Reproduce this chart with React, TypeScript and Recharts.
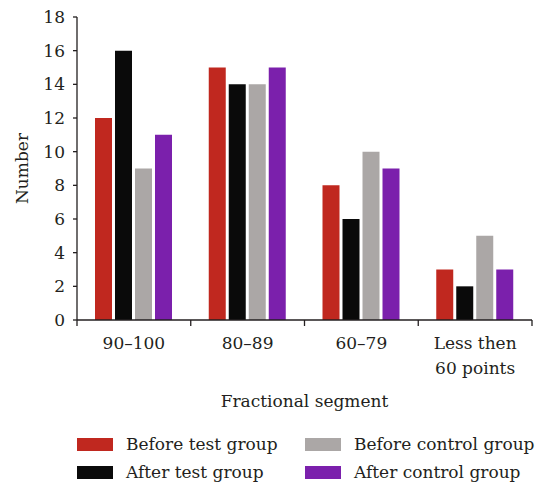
import { BarChart, Bar, XAxis, YAxis, Legend } from "recharts";

const categories = ["90–100", "80–89", "60–79", "Less then\n60 points"];
const beforeTest = [12, 15, 8, 3];
const afterTest = [16, 14, 6, 2];
const beforeControl = [9, 14, 10, 5];
const afterControl = [11, 15, 9, 3];
const yTicks = [0, 2, 4, 6, 8, 10, 12, 14, 16, 18];

const series = [
  { key: "beforeTest", name: "Before test group", color: "#C0281F" },
  { key: "afterTest", name: "After test group", color: "#0A0A0A" },
  { key: "beforeControl", name: "Before control group", color: "#ABA7A6" },
  { key: "afterControl", name: "After control group", color: "#7B20AC" },
];

const data = categories.map((c, i) => ({
  segment: c,
  beforeTest: beforeTest[i],
  afterTest: afterTest[i],
  beforeControl: beforeControl[i],
  afterControl: afterControl[i],
}));

const FONT = "'DejaVu Serif', serif";
const FS = 17;
const TEXT = "#231F20";
const AXIS = "#231F20";

function SegmentTick(props: any) {
  const { x, y, payload, index, visibleTicksCount } = props;
  const half = payload.offset || 0;
  const lines = String(payload.value).split("\n");
  const isLast = index === visibleTicksCount - 1;
  return (
    <g>
      <line x1={x - half} x2={x - half} y1={y - 8} y2={y - 2} stroke={AXIS} strokeWidth={1.3} />
      {isLast && (
        <line x1={x + half} x2={x + half} y1={y - 8} y2={y - 2} stroke={AXIS} strokeWidth={1.3} />
      )}
      <text x={x} y={y + 21} textAnchor="middle" fontFamily={FONT} fontSize={FS} fill={TEXT}>
        {lines.map((l, i) => (
          <tspan key={i} x={x} dy={i === 0 ? 0 : 25}>
            {l}
          </tspan>
        ))}
      </text>
    </g>
  );
}

function LegendBox() {
  return (
    <div
      style={{
        display: "grid",
        gridTemplateColumns: "228px 230px",
        gridTemplateRows: "28px 28px",
        gridAutoFlow: "column",
        paddingLeft: 77,
        paddingTop: 15,
        fontFamily: FONT,
        fontSize: FS,
        color: TEXT,
        whiteSpace: "nowrap",
      }}
    >
      {series.map((s) => (
        <div key={s.key} style={{ display: "flex", alignItems: "center" }}>
          <span
            style={{
              display: "inline-block",
              flex: "0 0 36px",
              width: 36,
              height: 13,
              background: s.color,
              marginRight: 13,
            }}
          />
          <span>{s.name}</span>
        </div>
      ))}
    </div>
  );
}

export default function App() {
  return (
    <div style={{ position: "absolute", left: 0, top: 0 }}>
      <BarChart
        width={535}
        height={486}
        data={data}
        margin={{ top: 17, right: 3, left: 0, bottom: 0 }}
        barGap={3}
        barSize={17}
      >
        <XAxis
          dataKey="segment"
          height={95}
          tickLine={false}
          tick={<SegmentTick />}
          axisLine={{ stroke: AXIS, strokeWidth: 1.3 }}
          interval={0}
          label={{
            value: "Fractional segment",
            position: "insideBottom",
            offset: 8,
            fontFamily: FONT,
            fontSize: FS,
            fill: TEXT,
          }}
        />
        <XAxis
          xAxisId="top"
          orientation="top"
          dataKey="segment"
          height={0}
          tick={false}
          tickLine={false}
          axisLine={{ stroke: AXIS, strokeWidth: 1.3 }}
        />
        <YAxis
          width={77}
          domain={[0, 18]}
          ticks={yTicks}
          interval={0}
          tickSize={4}
          tickMargin={8}
          tickLine={{ stroke: AXIS, strokeWidth: 1.3 }}
          axisLine={{ stroke: AXIS, strokeWidth: 1.3 }}
          tick={{ fontFamily: FONT, fontSize: FS, fill: TEXT }}
          label={{
            value: "Number",
            angle: -90,
            position: "insideLeft",
            offset: 22,
            fontFamily: FONT,
            fontSize: FS,
            fill: TEXT,
            style: { textAnchor: "middle" },
          }}
        />
        <YAxis
          yAxisId="right"
          orientation="right"
          width={0}
          domain={[0, 18]}
          tick={false}
          tickLine={false}
          axisLine={{ stroke: AXIS, strokeWidth: 1.3 }}
        />
        <Legend
          verticalAlign="bottom"
          height={71}
          wrapperStyle={{ left: 0, width: 535 }}
          content={() => <LegendBox />}
        />
        {series.map((s) => (
          <Bar
            key={s.key}
            dataKey={s.key}
            name={s.name}
            fill={s.color}
            isAnimationActive={false}
          />
        ))}
      </BarChart>
    </div>
  );
}
